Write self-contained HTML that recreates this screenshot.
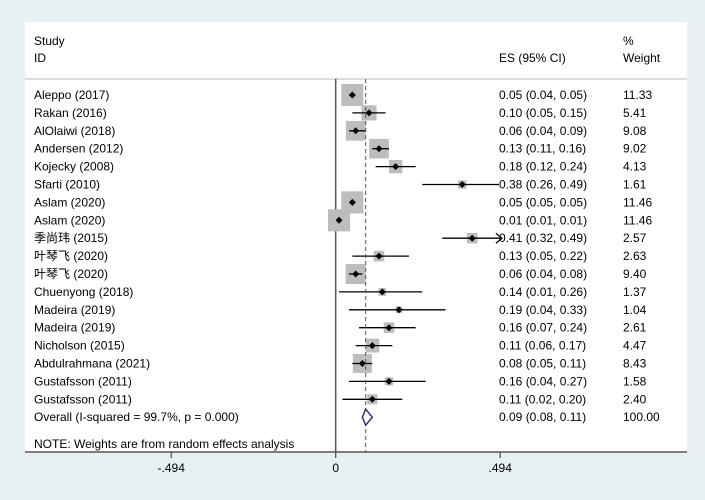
<!DOCTYPE html>
<html><head><meta charset="utf-8"><style>
html,body{margin:0;padding:0;background:#e7f0f2;}
svg{display:block;font-family:"Liberation Sans","Noto Sans CJK SC",sans-serif;}
</style></head><body>
<svg id="chart" width="705" height="500">
<rect x="25" y="22" width="662" height="430" fill="#fff"/>
<text x="34" y="45" font-size="12">Study</text>
<text x="34" y="62" font-size="12">ID</text>
<text x="499" y="62" font-size="12">ES (95% CI)</text>
<text x="623" y="45" font-size="12">%</text>
<text x="623" y="62" font-size="12">Weight</text>
<line x1="25" y1="79" x2="687" y2="79" stroke="#d0d0d0" stroke-width="1.5"/>
<g id="marks"></g>
<line x1="25" y1="452" x2="687" y2="452" stroke="#555" stroke-width="1.5"/>
<text x="34" y="448" font-size="12">NOTE: Weights are from random effects analysis</text>
</svg>
<script>
const studies=["Aleppo (2017)","Rakan (2016)","AlOlaiwi (2018)","Andersen (2012)","Kojecky (2008)","Sfarti (2010)","Aslam (2020)","Aslam (2020)","季尚玮 (2015)","叶琴飞 (2020)","叶琴飞 (2020)","Chuenyong (2018)","Madeira (2019)","Madeira (2019)","Nicholson (2015)","Abdulrahmana (2021)","Gustafsson (2011)","Gustafsson (2011)"];
const es=[0.05,0.10,0.06,0.13,0.18,0.38,0.05,0.01,0.41,0.13,0.06,0.14,0.19,0.16,0.11,0.08,0.16,0.11];
const lo=[0.04,0.05,0.04,0.11,0.12,0.26,0.05,0.01,0.32,0.05,0.04,0.01,0.04,0.07,0.06,0.05,0.04,0.02];
const hi=[0.05,0.15,0.09,0.16,0.24,0.49,0.05,0.01,0.49,0.22,0.08,0.26,0.33,0.24,0.17,0.11,0.27,0.20];
const weights=[11.33,5.41,9.08,9.02,4.13,1.61,11.46,11.46,2.57,2.63,9.40,1.37,1.04,2.61,4.47,8.43,1.58,2.40];
const arrowRight=[false,false,false,false,false,false,false,false,true,false,false,false,false,false,false,false,false,false];
const overall={es:0.09,lo:0.08,hi:0.11,w:"100.00",label:"Overall  (I-squared = 99.7%, p = 0.000)"};
const ticks=[-0.494,0,0.494];
const tickLabels=["-.494","0",".494"];
const ns="http://www.w3.org/2000/svg";
const svg=document.getElementById('chart'),g=document.getElementById('marks');
const x=v=>335.7+v*333, y=i=>95+i*17.9;
function mk(t,a,p){const e=document.createElementNS(ns,t);for(const k in a)e.setAttribute(k,a[k]);(p||g).appendChild(e);return e;}
const f2=v=>v.toFixed(2);
let nl=mk('line',{x1:x(0),y1:79,x2:x(0),y2:452,stroke:'#555','stroke-width':1.5});


studies.forEach((s,i)=>{
  const cy=y(i);
  let t=mk('text',{x:34,y:cy+4,'font-size':12});t.textContent=s;
  
  
  const side=22*Math.sqrt(weights[i]/11.33);
  let b=mk('rect',{x:x(es[i])-side/2,y:cy-side/2,width:side,height:side,fill:'#bdbdbd'});
  
  
  let l=mk('line',{x1:x(lo[i]),y1:cy,x2:x(hi[i])+(arrowRight[i]?3:0),y2:cy,stroke:'#000','stroke-width':1.3});
  
  
  if(arrowRight[i]){const ax=x(hi[i])+3;let a=mk('path',{d:`M${ax-6},${cy-5} L${ax},${cy} L${ax-6},${cy+5}`,fill:'none',stroke:'#000','stroke-width':1.3});
    
    }
  let p=mk('path',{d:`M${x(es[i])-3.5},${cy} L${x(es[i])},${cy-3.5} L${x(es[i])+3.5},${cy} L${x(es[i])},${cy+3.5}Z`,fill:'#000'});
  
  
  let e=mk('text',{x:499,y:cy+4,'font-size':12});e.textContent=`${f2(es[i])} (${f2(lo[i])}, ${f2(hi[i])})`;
  
  
  let w=mk('text',{x:623,y:cy+4,'font-size':12});w.textContent=f2(weights[i]);
  
  
});
const oy=y(studies.length);
let dl=mk('line',{x1:x(overall.es),y1:79,x2:x(overall.es),y2:452,stroke:'#a33','stroke-width':1,'stroke-dasharray':'4,3'});


let dm=mk('path',{d:`M${x(overall.lo)},${oy} L${x(overall.es)},${oy-8} L${x(overall.hi)},${oy} L${x(overall.es)},${oy+8}Z`,fill:'#fff',stroke:'#3a2a8c','stroke-width':1.5});


let ot=mk('text',{x:34,y:oy+4,'font-size':12});ot.textContent=overall.label;


let oe=mk('text',{x:499,y:oy+4,'font-size':12});oe.textContent=`${f2(overall.es)} (${f2(overall.lo)}, ${f2(overall.hi)})`;


let ow=mk('text',{x:623,y:oy+4,'font-size':12});ow.textContent=overall.w;


ticks.forEach((t,i)=>{
  let tk=mk('line',{x1:x(t),y1:452,x2:x(t),y2:458,stroke:'#555','stroke-width':1.3},svg);
  
  
  let tl=mk('text',{x:x(t),y:472,'font-size':12,'text-anchor':'middle'},svg);tl.textContent=tickLabels[i];
  
  
});
</script>
</body></html>
